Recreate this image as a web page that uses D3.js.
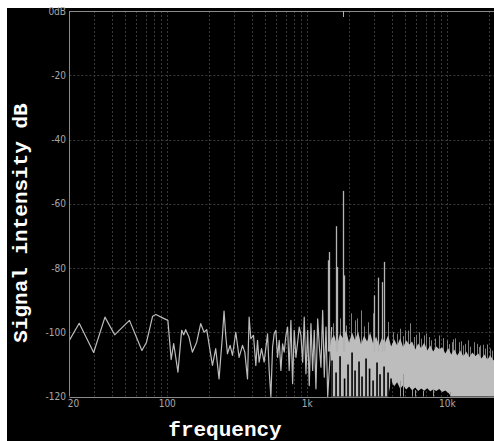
<!DOCTYPE html>
<html>
<head>
<meta charset="utf-8">
<script src="https://cdn.jsdelivr.net/npm/d3@7"></script>
<style>
html, body { margin: 0; padding: 0; background: #fff; }
svg { display: block; }
</style>
</head>
<body>
<script>
// trace, 20 Hz up to about 1.5 kHz
var traceFreq = [20, 23.5, 29.8, 35.9, 42.1, 53.7, 65.9, 71.1, 78.6, 82.9, 93.3, 101,
    106.6, 111.1, 119.2, 126.7, 131, 135.3, 142.9, 151.1, 162.2, 173.3, 183, 191.3,
    210.2, 221.8, 234.3, 247.8, 254.4, 261.6, 269, 281, 292.2, 308.6, 325.8, 344.6,
    357.8, 374.2, 384.2, 395.2, 413, 429, 441.2, 453, 471.2, 491.8, 520.2, 534.2,
    549.4, 565, 580, 596.6, 613.6, 630, 647.8, 666.2, 684, 703.6, 723.4, 742.6,
    763.8, 785.4, 806.4, 829.4, 853, 875.8, 900.8, 926.2, 951, 978, 1006, 1033,
    1062, 1092, 1121, 1153, 1186, 1218, 1252, 1288, 1322, 1360, 1399, 1453, 1494];
var traceDb = [-102.5, -97.2, -106.3, -95.3, -100.8, -96.3, -105.7, -103.1, -95.0, -94.5, -95.6, -96.3,
    -108.5, -103.5, -112.4, -99.4, -100.8, -99.2, -101.5, -106.2, -103.1, -97.3, -100.0, -99.2,
    -110.3, -105.1, -114.5, -101.0, -93.4, -101.0, -106.7, -104.1, -107.2, -100.0, -107.8, -104.1,
    -106.2, -114.5, -95.3, -102.0, -101.0, -110.3, -102.5, -109.3, -105.1, -109.3, -100.5, -111.9,
    -120, -104.6, -100.5, -99.4, -107.8, -102.5, -111.9, -103.6, -106.2, -101.0, -98.4, -111.9,
    -96.3, -116.0, -99.4, -107.8, -103.1, -98.4, -101.0, -109.3, -95.3, -112.9, -99.4, -116.6,
    -97.3, -111.9, -99.4, -117.6, -95.8, -104.1, -110.9, -93.2, -114.0, -98.4, -120, -107.8, -98.4];

// dense upper part, drawn as a filled band between two envelopes
var bandFreq = [1477, 1552, 1630, 1712, 1800, 1892, 1987, 2088, 2194, 2305, 2422, 2545,
    2673, 2809, 2951, 3101, 3258, 3423, 3597, 3779, 3971, 4172, 4383, 4605,
    4839, 5084, 5342, 5612, 5897, 6196, 6510, 6840, 7186, 7551, 7933, 8335,
    8758, 9202, 9668, 10158, 10673, 11215, 11783, 12381, 13008, 13668, 14360, 15088,
    15853, 16657, 17501, 18388, 19320, 20299, 21328, 22050];
var bandTop = [-102.5, -100.7, -104.1, -100.4, -101.9, -99.4, -103.2, -100.1, -102.5, -99.8, -103.8, -101.0,
    -102.9, -100.1, -103.5, -101.3, -104.1, -101.6, -103.2, -100.9, -104.4, -102.2, -104.1, -101.9,
    -104.7, -102.5, -103.8, -102.9, -105.4, -103.5, -105.0, -103.2, -105.7, -104.1, -106.0, -104.4,
    -105.3, -104.7, -106.6, -105.0, -106.9, -105.4, -107.2, -105.7, -107.5, -106.0, -107.8, -106.3,
    -107.4, -106.6, -108.2, -106.9, -108.5, -107.2, -108.8, -107.8];
var bandBottom = [-120, -120, -120, -120, -120, -120, -120, -120, -120, -120, -120, -120,
    -120, -120, -120, -120, -120, -120, -120, -120, -115.0, -116.8, -115.6, -117.6,
    -116.5, -117.8, -116.9, -118.1, -117.2, -118.3, -117.5, -118.2, -117.4, -118.4, -117.8, -118.3,
    -117.7, -118.6, -118.1, -118.8, -120, -120, -120, -120, -120, -120, -120, -120,
    -120, -120, -120, -120, -120, -120, -120, -120];

// narrow black gaps rising from the floor into the band
var gapFreq = [1502, 1605, 1714, 1846, 1954, 2088, 2193, 2342, 2460, 2628, 2784, 2950,
    3148, 3308, 3534, 3774, 3964];
var gapDb = [-108.8, -112.5, -107.5, -114.4, -110.0, -106.3, -111.9, -109.1, -113.8, -108.2, -111.3, -115.0,
    -109.4, -113.1, -110.7, -112.5, -114.4];

// single bins sticking out above the band
var spikeFreq = [1527, 1700, 1892, 2054, 2193, 2266, 2422, 2522, 2704, 2937, 3202, 3798,
    4124, 4400, 4605, 4830, 5000, 5250, 5432, 5736, 5950, 6228, 6500, 6762,
    7050, 7344, 7700, 8200, 8658, 9300, 9944, 10300, 10798, 11000, 11360, 12042,
    12600, 13000, 13444, 14068, 14600, 15418, 16200, 16900, 17214, 18000, 18696, 19226,
    20100, 20876, 21700];
var spikeDb = [-97.2, -95.7, -97.9, -94.1, -96.3, -95.7, -93.2, -98.2, -96.9, -94.1, -96.9, -96.8,
    -100.0, -100.5, -98.9, -101.2, -99.4, -99.5, -97.2, -101.5, -100.8, -100.0, -102.0, -101.0,
    -100.4, -101.5, -102.5, -102.0, -101.0, -101.8, -102.5, -103.7, -103.1, -102.2, -101.9, -103.1,
    -102.8, -104.1, -103.6, -102.5, -104.5, -103.1, -103.6, -104.6, -104.1, -103.9, -105.1, -103.8,
    -105.0, -105.7, -104.4];

// short bins rising from the floor under the band
var floorFreq = [4596, 4806, 5572, 5884, 6746, 7948, 10460];
var floorDb = [-115.1, -113.0, -117.9, -118.0, -118.2, -117.6, -118.6];

// harmonic peaks
var peakFreq = [1399, 1422, 1612, 1630, 1809, 1832, 3016, 3186, 3403, 3556];
var peakDb = [-77.6, -75.0, -67.0, -79.7, -56.0, -82.3, -88.5, -83.0, -84.4, -78.1];
var markerFreq = 1809;

var dbTicks = [0, -20, -40, -60, -80, -100, -120];
var dbLabels = ["0dB", "-20", "-40", "-60", "-80", "-100", "-120"];
var freqTicks = [20, 100, 1000, 10000];
var freqLabels = ["20", "100", "1k", "10k"];

var svgWidth = 494;
var svgHeight = 441;

var svg = d3.select("body")
    .append("svg")
    .attr("width", svgWidth)
    .attr("height", svgHeight);

svg.append("rect")
    .attr("width", svgWidth)
    .attr("height", svgHeight)
    .attr("fill", "#fff");
svg.append("rect")
    .attr("x", 7)
    .attr("y", 8)
    .attr("width", svgWidth - 7)
    .attr("height", svgHeight - 8)
    .attr("fill", "#000");

var x = d3.scaleLog().domain([20, 22050]).range([69.4, 495.4]);
var y = d3.scaleLinear().domain([0, -120]).range([11, 396.5]);

svg.append("clipPath")
    .attr("id", "plot")
    .append("rect")
    .attr("x", 70)
    .attr("y", 11)
    .attr("width", 424)
    .attr("height", 386);

// grid
var grid = svg.append("g")
    .attr("stroke", "#3a3a3a")
    .attr("stroke-dasharray", "2,2");
grid.selectAll("line.v")
    .data(x.ticks().filter(d => d > 20))
    .join("line")
    .attr("class", "v")
    .attr("x1", d => Math.round(x(d)) + 0.5)
    .attr("x2", d => Math.round(x(d)) + 0.5)
    .attr("y1", y(0))
    .attr("y2", y(-120));
grid.selectAll("line.h")
    .data(dbTicks.filter(d => d < 0 && d > -120))
    .join("line")
    .attr("class", "h")
    .attr("x1", x(20))
    .attr("x2", svgWidth)
    .attr("y1", d => Math.round(y(d)) + 0.5)
    .attr("y2", d => Math.round(y(d)) + 0.5);

var plot = svg.append("g").attr("clip-path", "url(#plot)");

var spikes = spikeFreq.map((f, i) => ({f: f, db: spikeDb[i]}));
plot.selectAll("line.spike")
    .data(spikes)
    .join("line")
    .attr("class", "spike")
    .attr("x1", d => Math.round(x(d.f)) + 0.5)
    .attr("x2", d => Math.round(x(d.f)) + 0.5)
    .attr("y1", y(-110))
    .attr("y2", d => y(d.db))
    .attr("stroke", "#808080")
    .attr("stroke-width", 1);

var band = bandFreq.map((f, i) => ({f: f, top: bandTop[i], bottom: bandBottom[i]}));
var area = d3.area()
    .x(d => x(d.f))
    .y0(d => y(d.bottom))
    .y1(d => y(d.top));
plot.append("path")
    .attr("d", area(band))
    .attr("fill", "#bdbdbd");

var gaps = gapFreq.map((f, i) => ({f: f, db: gapDb[i]}));
plot.selectAll("line.gap")
    .data(gaps)
    .join("line")
    .attr("class", "gap")
    .attr("x1", d => x(d.f))
    .attr("x2", d => x(d.f))
    .attr("y1", y(-120))
    .attr("y2", d => y(d.db))
    .attr("stroke", "#000")
    .attr("stroke-width", 1.6);

var floor = floorFreq.map((f, i) => ({f: f, db: floorDb[i]}));
plot.selectAll("line.floor")
    .data(floor)
    .join("line")
    .attr("class", "floor")
    .attr("x1", d => Math.round(x(d.f)) + 0.5)
    .attr("x2", d => Math.round(x(d.f)) + 0.5)
    .attr("y1", y(-120))
    .attr("y2", d => y(d.db))
    .attr("stroke", "#9a9a9a");

var trace = traceFreq.map((f, i) => ({f: f, db: traceDb[i]}));
var line = d3.line()
    .x(d => x(d.f))
    .y(d => y(d.db));
plot.append("path")
    .attr("d", line(trace))
    .attr("fill", "none")
    .attr("stroke", "#bcbcbc")
    .attr("stroke-width", 1.2)
    .attr("stroke-linejoin", "round");

var peaks = peakFreq.map((f, i) => ({f: f, db: peakDb[i]}));
plot.selectAll("line.peak")
    .data(peaks)
    .join("line")
    .attr("class", "peak")
    .attr("x1", d => Math.round(x(d.f)) + 0.5)
    .attr("x2", d => Math.round(x(d.f)) + 0.5)
    .attr("y1", y(-106))
    .attr("y2", d => y(d.db))
    .attr("stroke", "#b4b4b4")
    .attr("stroke-width", 1.3);

// axes
var axisColor = "#8a8a8a";
svg.append("line")
    .attr("x1", 69.5).attr("x2", 69.5)
    .attr("y1", y(0)).attr("y2", y(-120))
    .attr("stroke", axisColor);
svg.append("line")
    .attr("x1", 69.5).attr("x2", svgWidth)
    .attr("y1", Math.round(y(0)) + 0.5).attr("y2", Math.round(y(0)) + 0.5)
    .attr("stroke", axisColor);
svg.append("line")
    .attr("x1", 69.5).attr("x2", svgWidth)
    .attr("y1", Math.round(y(-120)) + 0.5).attr("y2", Math.round(y(-120)) + 0.5)
    .attr("stroke", axisColor);
svg.append("line")
    .attr("x1", Math.round(x(markerFreq)) + 0.5).attr("x2", Math.round(x(markerFreq)) + 0.5)
    .attr("y1", y(0)).attr("y2", y(0) + 6)
    .attr("stroke", "#b0b0b0");

var tickFont = "'Liberation Sans Narrow', 'DejaVu Sans Condensed', sans-serif";
svg.selectAll("text.ytick")
    .data(dbTicks)
    .join("text")
    .attr("class", "ytick")
    .attr("x", 66)
    .attr("y", d => y(d) + 3.5)
    .attr("text-anchor", "end")
    .attr("font-family", tickFont)
    .attr("font-size", 10)
    .attr("fill", "#a8a8a8")
    .text((d, i) => dbLabels[i]);

svg.selectAll("text.xtick")
    .data(freqTicks)
    .join("text")
    .attr("class", "xtick")
    .attr("x", (d, i) => i === 0 ? x(d) + 4 : x(d))
    .attr("y", 407)
    .attr("text-anchor", "middle")
    .attr("font-family", tickFont)
    .attr("font-size", 10)
    .attr("fill", "#a8a8a8")
    .text((d, i) => freqLabels[i]);

var titleFont = "'Liberation Mono', 'Courier New', monospace";
svg.append("text")
    .attr("x", 225)
    .attr("y", 436)
    .attr("text-anchor", "middle")
    .attr("font-family", titleFont)
    .attr("font-weight", "bold")
    .attr("font-size", 21)
    .attr("fill", "#fff")
    .text("frequency");

svg.append("text")
    .attr("transform", "translate(27, 223) rotate(-90)")
    .attr("text-anchor", "middle")
    .attr("font-family", titleFont)
    .attr("font-weight", "bold")
    .attr("font-size", 21)
    .attr("fill", "#fff")
    .text("Signal intensity dB");
</script>
</body>
</html>
